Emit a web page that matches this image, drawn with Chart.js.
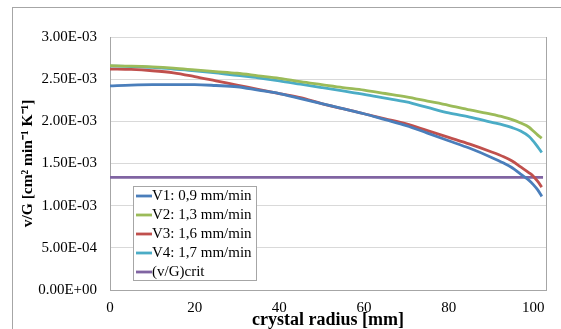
<!DOCTYPE html>
<html>
<head>
<meta charset="utf-8">
<script src="https://cdn.jsdelivr.net/npm/chart.js@4/dist/chart.umd.min.js"></script>
<style>
  html, body { margin: 0; padding: 0; background: #ffffff; }
  #wrap { position: relative; width: 561px; height: 329px; }
</style>
</head>
<body>
<div id="wrap"><canvas id="chart" width="561" height="329"></canvas></div>
<script>
  // crystal radius [mm]
  const radius = [0, 5, 10, 15, 20, 25, 30, 35, 40, 45, 50, 55, 60, 65, 70, 75, 80, 85, 90, 93, 95, 97, 99, 100, 101, 102];

  // v/G values, units of 1e-3 cm2 min-1 K-1
  const v1 = [2.42, 2.43, 2.435, 2.435, 2.435, 2.425, 2.41, 2.37, 2.33, 2.27, 2.21, 2.15, 2.09, 2.02, 1.95, 1.86, 1.77, 1.68, 1.575, 1.505, 1.45, 1.375, 1.30, 1.25, 1.19, 1.11];
  const v2 = [2.66, 2.655, 2.645, 2.63, 2.61, 2.59, 2.57, 2.54, 2.51, 2.47, 2.435, 2.40, 2.37, 2.33, 2.29, 2.24, 2.19, 2.135, 2.085, 2.05, 2.02, 1.98, 1.93, 1.885, 1.84, 1.80];
  const v3 = [2.62, 2.615, 2.60, 2.575, 2.53, 2.48, 2.43, 2.38, 2.33, 2.28, 2.21, 2.15, 2.09, 2.03, 1.97, 1.89, 1.81, 1.73, 1.64, 1.58, 1.53, 1.46, 1.39, 1.35, 1.29, 1.22];
  const v4 = [2.655, 2.65, 2.64, 2.62, 2.60, 2.575, 2.545, 2.515, 2.48, 2.44, 2.40, 2.36, 2.32, 2.275, 2.23, 2.165, 2.10, 2.05, 1.99, 1.955, 1.925, 1.885, 1.82, 1.765, 1.70, 1.63];
  const critRadius = [0, 102.3];
  const critValue = [1.335, 1.335];

  const xTicks = [0, 20, 40, 60, 80, 100];

  const seriesLabels = ["V1: 0,9 mm/min", "V2: 1,3 mm/min", "V3: 1,6 mm/min", "V4: 1,7 mm/min", "(v/G)crit"];
  const seriesColors = ["#4a7ebb", "#9bbb59", "#c0504d", "#4bacc6", "#8064a2"];

  const FONT = "'Liberation Serif', 'Times New Roman', serif";

  function toPoints(xs, ys) {
    return xs.map(function (x, i) {
      return { x: x, y: ys[i] * 1e-3 };
    });
  }

  function formatSci(value) {
    const parts = Number(value).toExponential(2).split("e");
    const exp = Number(parts[1]);
    const sign = exp < 0 ? "-" : "+";
    const digits = String(Math.abs(exp)).padStart(2, "0");
    return `${parts[0]}E${sign}${digits}`;
  }

  function makeDataset(i, xs, ys) {
    return {
      label: seriesLabels[i],
      data: toPoints(xs, ys),
      borderColor: seriesColors[i],
      backgroundColor: seriesColors[i],
      borderWidth: 2.8,
      pointRadius: 0,
      showLine: true,
      fill: false,
      cubicInterpolationMode: "monotone",
    };
  }

  const framePlugin = {
    id: "frame",
    beforeDraw: function (chart) {
      const ctx = chart.ctx;
      ctx.save();
      ctx.strokeStyle = "#a6a6a6";
      ctx.lineWidth = 1;
      ctx.strokeRect(12.5, 7.5, 600, 400);
      ctx.restore();
    },
    afterDatasetsDraw: function (chart) {
      const ctx = chart.ctx;
      const area = chart.chartArea;
      ctx.save();
      ctx.strokeStyle = "#a6a6a6";
      ctx.lineWidth = 1;
      ctx.beginPath();
      ctx.moveTo(Math.round(area.right) + 0.5, area.top);
      ctx.lineTo(Math.round(area.right) + 0.5, area.bottom);
      ctx.stroke();

      // legend box inside the plot area
      const left = 133.5;
      const top = 186.5;
      const width = 123;
      const height = 94;
      ctx.fillStyle = "#ffffff";
      ctx.fillRect(left, top, width, height);
      ctx.strokeStyle = "#a6a6a6";
      ctx.strokeRect(left, top, width, height);

      ctx.font = "15px " + FONT;
      ctx.textBaseline = "middle";
      ctx.textAlign = "left";
      chart.data.datasets.forEach(function (ds, i) {
        const y = 196 + i * 19;
        ctx.strokeStyle = ds.borderColor;
        ctx.lineWidth = 2.8;
        ctx.beginPath();
        ctx.moveTo(136, y);
        ctx.lineTo(152, y);
        ctx.stroke();
        ctx.fillStyle = "#000000";
        ctx.fillText(ds.label, 152, y + 0.5);
      });
      ctx.restore();
    },
  };

  new Chart(document.getElementById("chart"), {
    type: "scatter",
    data: {
      datasets: [
        makeDataset(0, radius, v1),
        makeDataset(1, radius, v2),
        makeDataset(2, radius, v3),
        makeDataset(3, radius, v4),
        makeDataset(4, critRadius, critValue),
      ],
    },
    options: {
      responsive: false,
      animation: false,
      layout: { padding: { top: 37, right: 15, left: 0, bottom: 0 } },
      plugins: {
        legend: { display: false },
        tooltip: { enabled: false },
      },
      scales: {
        x: {
          type: "linear",
          min: 0,
          max: 103,
          afterBuildTicks: function (scale) {
            scale.ticks = xTicks.map(function (v) {
              return { value: v };
            });
          },
          afterFit: function (scale) {
            scale.height = 39;
          },
          ticks: {
            color: "#000000",
            padding: 9,
            maxRotation: 0,
            autoSkip: false,
            font: { family: FONT, size: 15 },
          },
          grid: { display: false, drawTicks: false },
          border: { color: "#a6a6a6" },
          title: {
            display: true,
            text: "crystal radius [mm]",
            color: "#000000",
            padding: { top: 0, bottom: -2 },
            font: { family: FONT, size: 18, weight: "bold" },
          },
        },
        y: {
          min: 0,
          max: 3e-3,
          afterFit: function (scale) {
            scale.width = 110;
          },
          ticks: {
            stepSize: 5e-4,
            color: "#000000",
            padding: 13,
            font: { family: FONT, size: 15 },
            callback: function (value) {
              return formatSci(value);
            },
          },
          grid: { color: "#d9d9d9", drawTicks: false },
          border: { color: "#a6a6a6" },
          title: {
            display: true,
            text: "v/G [cm\u00b2 min\u207b\u00b9 K\u207b\u00b9]",
            color: "#000000",
            padding: { top: 19, bottom: 0 },
            font: { family: FONT, size: 15.5, weight: "bold" },
          },
        },
      },
    },
    plugins: [framePlugin],
  });
</script>
</body>
</html>
